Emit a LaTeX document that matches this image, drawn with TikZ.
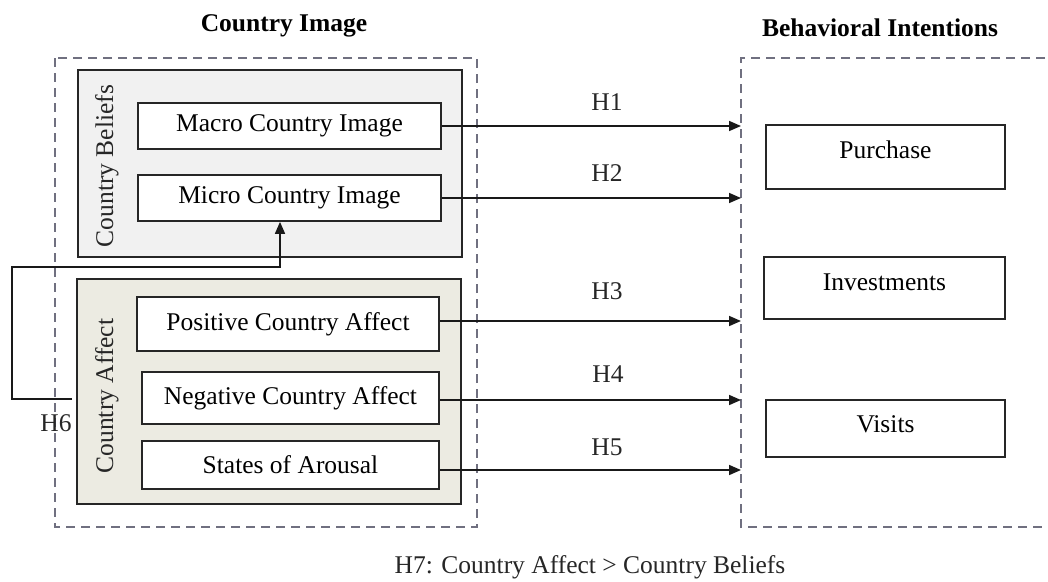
\documentclass[tikz,border=0pt]{standalone}
\usepackage{fontspec}
\setmainfont{Liberation Serif}
\usetikzlibrary{arrows.meta}
\definecolor{dashcol}{HTML}{707080}
\definecolor{beliefsfill}{HTML}{F1F1F1}
\definecolor{affectfill}{HTML}{ECEBE2}
\begin{document}
\begin{tikzpicture}[x=1pt,y=-1pt,
  every node/.style={font=\fontsize{25.5}{30}\selectfont, inner sep=0pt},
  groupbox/.style={draw=dashcol, line width=1.3pt, dash pattern=on 9pt off 6pt},
  catbox/.style={draw=black!85, line width=1.7pt},
  itembox/.style={draw=black!85, line width=1.7pt, fill=white},
  arr/.style={draw=black!90, line width=1.6pt, -{Triangle[length=12pt,width=10pt]}},
  lbl/.style={text=black!85},
  title/.style={font=\fontsize{25.5}{30}\selectfont\bfseries}]
\useasboundingbox (0,0) rectangle (1048,581);
% titles
\node[title] (t1) at (284,26) {Country Image};
\node[title] (t2) at (880,28) {Behavioral Intentions};
% dashed groups
\draw[groupbox] (55,58) rectangle (477,527);
\draw[groupbox] (1060,58) -- (741,58) -- (741,527) -- (1060,527);
% category boxes
\node[catbox, fill=beliefsfill, minimum width=384pt, minimum height=187pt] (beliefs) at (270,163.5) {};
\node[catbox, fill=affectfill, minimum width=384pt, minimum height=225pt] (affect) at (269,391.5) {};
\node[lbl, rotate=90] (beliefslbl) at (107,166) {Country Beliefs};
\node[lbl, rotate=90] (affectlbl) at (107,396) {Country Affect};
% item boxes
\node[itembox, minimum width=303pt, minimum height=46pt] (macro) at (289.5,126) {Macro Country Image};
\node[itembox, minimum width=303pt, minimum height=46pt] (micro) at (289.5,198) {Micro Country Image};
\node[itembox, minimum width=302pt, minimum height=54pt] (pos) at (288,324) {Positive Country Affect};
\node[itembox, minimum width=297pt, minimum height=52pt] (neg) at (290.5,398) {Negative Country Affect};
\node[itembox, minimum width=297pt, minimum height=48pt] (arou) at (290.5,465) {States of Arousal};
% outcome boxes
\node[itembox, minimum width=239pt, minimum height=64pt, text depth=14pt] (purchase) at (885.5,157) {Purchase};
\node[itembox, minimum width=241pt, minimum height=62pt, text depth=12pt] (invest) at (884.5,288) {Investments};
\node[itembox, minimum width=239pt, minimum height=57pt, text depth=8pt] (visits) at (885.5,428.5) {Visits};
% arrow end points on the dashed group
\coordinate (e1) at (741,126);
\coordinate (e2) at (741,198);
\coordinate (e3) at (741,321);
\coordinate (e4) at (741,400);
\coordinate (e5) at (741,470);
\draw[arr] (macro.east) -- (e1);
\draw[arr] (micro.east) -- (e2);
\draw[arr] (pos.east|-e3) -- (e3);
\draw[arr] (neg.east|-e4) -- (e4);
\draw[arr] (arou.east|-e5) -- (e5);
\node[lbl] (h1) at (607,102) {H1};
\node[lbl] (h2) at (607,173) {H2};
\node[lbl] (h3) at (607,291) {H3};
\node[lbl] (h4) at (608,374) {H4};
\node[lbl] (h5) at (607,447) {H5};
% H6 loop
\coordinate (h6start) at (72,399);
\coordinate (h6x) at (280,0);
\draw[arr] (h6start) -- (12,399) |- (280,267) -- (micro.south -| h6x);
\node[lbl] (h6) at (56,423) {H6};
% H7 note
\node[lbl] (h7) at (590,567) {H7: Country Affect > Country Beliefs};
\end{tikzpicture}
\end{document}
